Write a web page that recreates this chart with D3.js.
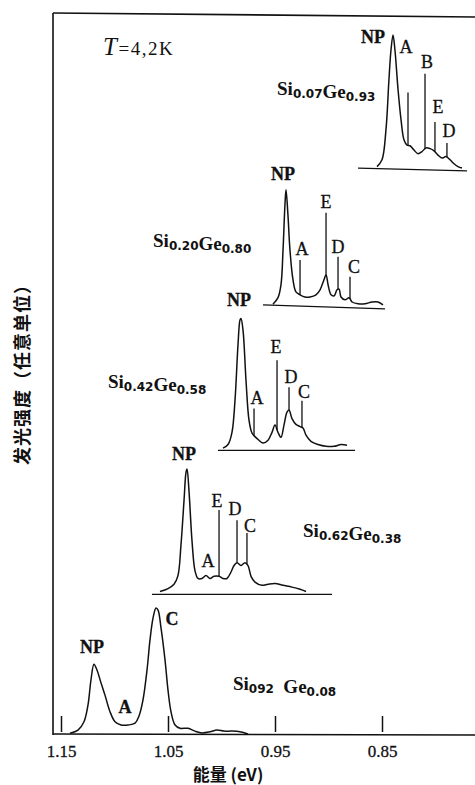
<!DOCTYPE html>
<meta charset="utf-8">
<head>
	<script src="https://d3js.org/d3.v7.min.js"></script>
	<style>
		body { margin: 0; background: #fff; }
		svg { display: block; }
		.frame line { stroke: #111; stroke-width: 1.6px; }
		.spectrum path { fill: none; stroke: #111; stroke-width: 1.5px; }
		.spectrum line { stroke: #111; stroke-width: 1.3px; }
		.peak { font-family: "Liberation Serif", serif; font-size: 18px; fill: #111; stroke: #111; stroke-width: 0.3px; }
		.sample { font-family: "Liberation Serif", serif; font-size: 19px; font-weight: bold; fill: #111; }
		.sample .sub { font-family: "DejaVu Sans", sans-serif; font-size: 12px; }
		.axis line { stroke: #111; stroke-width: 1.5px; }
	</style>
</head>
<body>
	<div id="chart"></div>
</body>

<script type="text/javascript">
	// energy ticks (eV), axis reversed: high energy on the left
	var energyTicks = [1.15, 1.05, 0.95, 0.85];

	// baseline level of each trace (arbitrary units, 0..100 over the frame)
	var offsets = [78.5, 59.6, 39.4, 19.4, 0];

	// sample names: [element, subscript] pairs
	var sampleNames = [
		[["Si", "0.07"], ["Ge", "0.93"]],
		[["Si", "0.20"], ["Ge", "0.80"]],
		[["Si", "0.42"], ["Ge", "0.58"]],
		[["Si", "0.62"], ["Ge", "0.38"]],
		[["Si", "092"], ["  Ge", "0.08"]]
	];
	var sampleAt = [[0.9481, 10.3], [1.0640, 8.1], [1.1061, 8.6], [0.9238, 7.9], [0.9893, 6.1]];

	// spectra: [energy eV, intensity above baseline]
	var spec1 = [[0.8547,0.3],[0.8500,1.25],[0.8463,5.4],[0.8435,12.4],[0.8416,16.5],[0.8397,18.6],[0.8379,16.5],
		[0.8350,11],[0.8322,6.8],[0.8294,4.0],[0.8266,3.3],[0.8238,3.2],[0.8201,2.6],[0.8164,2.1],[0.8126,2.4],
		[0.8089,2.9],[0.8051,2.8],[0.8014,2.5],[0.7977,1.9],[0.7939,1.5],[0.7902,1.7],[0.7864,1.25],[0.7827,0.7],
		[0.7790,0.3],[0.7752,0.1]];
	var spec2 = [[0.9519,0.1],[0.9472,1.0],[0.9444,2.8],[0.9425,7.6],[0.9407,13.9],[0.9397,16.0],[0.9379,12.5],
		[0.9360,7.6],[0.9332,3.5],[0.9304,1.8],[0.9266,1.4],[0.9220,1.1],[0.9173,1.1],[0.9117,1.4],[0.9079,2.1],
		[0.9042,3.5],[0.9023,4.2],[0.9004,2.8],[0.8976,1.4],[0.8948,1.25],[0.8920,2.1],[0.8901,2.2],[0.8883,1.1],
		[0.8845,0.7],[0.8808,1.0],[0.8780,0.4],[0.8724,0.15],[0.8659,0.15],[0.8593,0.4],[0.8537,0.4],[0.8491,0]];
	var spec3 = [[0.9986,0.3],[0.9939,0.8],[0.9902,2.5],[0.9874,6.9],[0.9846,14.6],[0.9827,18.1],[0.9818,18.3],
		[0.9799,16.7],[0.9771,9.7],[0.9743,4.2],[0.9715,2.4],[0.9687,1.9],[0.9650,1.4],[0.9612,1.0],[0.9565,1.4],
		[0.9528,2.5],[0.9500,3.5],[0.9472,2.5],[0.9444,1.8],[0.9416,3.5],[0.9388,5.3],[0.9369,5.6],[0.9341,4.4],
		[0.9304,3.6],[0.9266,3.3],[0.9238,3.1],[0.9210,2.1],[0.9164,1.25],[0.9098,0.8],[0.9023,0.55],[0.8948,0.55],
		[0.8883,0.8],[0.8827,0.7]];
	var spec4 = [[1.0575,0.4],[1.0500,0.8],[1.0444,1.4],[1.0407,2.6],[1.0379,6.8],[1.0350,13.1],[1.0332,16.9],
		[1.0322,17.4],[1.0304,14.4],[1.0276,7.5],[1.0248,3.3],[1.0220,2.2],[1.0182,2.2],[1.0145,2.6],[1.0107,2.2],
		[1.0070,2.5],[1.0023,2.5],[0.9986,2.2],[0.9949,2.2],[0.9911,3.1],[0.9883,4.0],[0.9855,4.4],[0.9818,4.0],
		[0.9780,4.4],[0.9752,4.0],[0.9724,2.5],[0.9687,1.7],[0.9621,1.25],[0.9565,1.4],[0.9500,1.5],[0.9425,1.25],
		[0.9341,1.0],[0.9266,0.7],[0.9210,0.4]];
	var spec5 = [[1.1416,0.1],[1.1341,0.55],[1.1285,1.7],[1.1248,4.0],[1.1220,7.5],[1.1192,9.7],[1.1164,8.9],
		[1.1126,7.1],[1.1089,5.4],[1.1042,3.1],[1.0995,1.7],[1.0939,1.25],[1.0874,1.25],[1.0808,1.5],[1.0771,2.5],
		[1.0734,4.7],[1.0696,8.9],[1.0668,13.1],[1.0640,16.1],[1.0612,17.5],[1.0593,17.2],[1.0565,14.7],[1.0528,10.3],
		[1.0500,6.1],[1.0472,3.1],[1.0434,1.25],[1.0388,0.8],[1.0313,0.8],[1.0248,0.4],[1.0182,0.15],[1.0107,0.3],
		[1.0042,0.55],[0.9977,0.4],[0.9902,0.4],[0.9827,0.3],[0.9752,0]];
	var spectra = [spec1, spec2, spec3, spec4, spec5];

	// short baselines drawn under each trace: [energy, level]
	var baselines = [
		[[0.8724, 0.1], [0.7706, -0.3]],
		[[0.9612, 0], [0.8472, -0.55]],
		[[1.0033, 0], [0.8752, 0]],
		[[1.0650, 0], [0.8967, 0]],
		null
	];

	// replica marker lines: [name, energy, top level]
	var markers = [
		[["A", 0.8257, 10.6], ["B", 0.8098, 13.2], ["E", 0.8005, 6.5], ["D", 0.7893, 3.6]],
		[["A", 0.9266, 6.25], ["E", 0.9023, 12.8], ["D", 0.8911, 6.7], ["C", 0.8799, 3.9]],
		[["A", 0.9696, 5.8], ["E", 0.9481, 12.5], ["D", 0.9369, 8.75], ["C", 0.9248, 6.9]],
		[["E", 1.0023, 11.7], ["D", 0.9855, 10.3], ["C", 0.9762, 8.5]],
		[]
	];

	// peak labels: [text, energy, level]
	var peakLabels = [
		[["NP", 0.8584, 17.5], ["A", 0.8276, 16.1], ["B", 0.8079, 14.0], ["E", 0.7977, 7.8], ["D", 0.7874, 4.4]],
		[["NP", 0.9425, 17.4], ["E", 0.9023, 13.5], ["A", 0.9248, 6.9], ["D", 0.8911, 7.2], ["C", 0.8762, 4.4]],
		[["NP", 0.9836, 20.1], ["A", 0.9668, 6.5], ["E", 0.9491, 13.5], ["D", 0.9350, 9.4], ["C", 0.9229, 7.2]],
		[["NP", 1.0350, 18.6], ["A", 1.0126, 3.75], ["E", 1.0042, 12.1], ["D", 0.9874, 11.0], ["C", 0.9734, 8.6]],
		[["NP", 1.1210, 11.25], ["A", 1.0902, 2.9], ["C", 1.0463, 15.1]]
	];

	var W = 475, H = 785;
	var frame = {left: 53, right: 475, top: 14, bottom: 734};

	var x = d3.scaleLinear().domain([1.15, 0.85]).range([61, 382]);
	var y = d3.scaleLinear().domain([0, 100]).range([frame.bottom, frame.top]);

	var svg = d3.select("#chart").append("svg")
		.attr("width", W)
		.attr("height", H);

	var fr = svg.append("g").attr("class", "frame");
	fr.append("line").attr("x1", frame.left).attr("y1", frame.top - 1).attr("x2", frame.left).attr("y2", frame.bottom + 1);
	fr.append("line").attr("x1", frame.left).attr("y1", frame.top - 1).attr("x2", frame.right).attr("y2", frame.top + 3);
	fr.append("line").attr("x1", frame.left).attr("y1", frame.bottom).attr("x2", frame.right).attr("y2", frame.bottom + 1);

	var xAxis = d3.axisBottom(x)
		.tickValues(energyTicks)
		.tickFormat(d3.format(".2f"))
		.tickSizeInner(-18)
		.tickSizeOuter(0)
		.tickPadding(11);

	var xg = svg.append("g")
		.attr("class", "axis")
		.attr("transform", "translate(0," + frame.bottom + ")")
		.call(xAxis);
	xg.select(".domain").remove();
	xg.selectAll(".tick line").attr("y2", -18).attr("y1", -2);
	xg.selectAll(".tick text")
		.style("font-family", "'Liberation Serif', serif")
		.style("font-size", "17px")
		.style("fill", "#111")
		.style("stroke", "#111")
		.style("stroke-width", "0.3px");

	svg.append("text")
		.attr("x", 228)
		.attr("y", 781)
		.attr("text-anchor", "middle")
		.style("font-family", "'Noto Sans CJK SC', 'Liberation Serif', serif")
		.style("font-weight", "bold")
		.style("font-size", "17px")
		.style("fill", "#111")
		.text("能量 (eV)");

	svg.append("text")
		.attr("transform", "translate(29,370)rotate(-90)")
		.attr("text-anchor", "middle")
		.style("font-family", "'Noto Sans CJK SC', sans-serif")
		.style("font-weight", "bold")
		.style("font-size", "18px")
		.style("letter-spacing", "1px")
		.style("fill", "#111")
		.text("发光强度（任意单位）");

	var tLabel = svg.append("text")
		.attr("x", x(1.1107))
		.attr("y", y(94.3))
		.style("font-family", "'Liberation Serif', serif")
		.style("font-size", "19px")
		.style("letter-spacing", "1.5px")
		.style("fill", "#111");
	tLabel.append("tspan").style("font-style", "italic").style("font-size", "25px").text("T");
	tLabel.append("tspan").text("=4,2K");

	function levelAt(pts, e) {
		for (var i = 1; i < pts.length; i++) {
			var a = pts[i - 1], b = pts[i];
			if ((e <= a[0] && e >= b[0])) {
				var t = (a[0] - e) / (a[0] - b[0]);
				return a[1] + t * (b[1] - a[1]);
			}
		}
		return 0;
	}

	var line = d3.line()
		.x(function(d) { return x(d[0]); })
		.y(function(d) { return d[1]; })
		.curve(d3.curveCatmullRom.alpha(0.5));

	spectra.forEach(function(pts, i) {
		var off = offsets[i];
		var g = svg.append("g").attr("class", "spectrum");

		if (baselines[i]) {
			g.append("line")
				.attr("x1", x(baselines[i][0][0])).attr("y1", y(off + baselines[i][0][1]))
				.attr("x2", x(baselines[i][1][0])).attr("y2", y(off + baselines[i][1][1]));
		}

		g.append("path")
			.attr("d", line(pts.map(function(d) { return [d[0], y(off + d[1])]; })));

		g.selectAll(".marker")
			.data(markers[i])
			.enter().append("line")
			.attr("class", "marker")
			.attr("x1", function(d) { return x(d[1]); })
			.attr("x2", function(d) { return x(d[1]); })
			.attr("y1", function(d) { return y(off + d[2]); })
			.attr("y2", function(d) { return y(off + levelAt(pts, d[1])); });

		g.selectAll(".peak")
			.data(peakLabels[i])
			.enter().append("text")
			.attr("class", "peak")
			.attr("x", function(d) { return x(d[1]); })
			.attr("y", function(d) { return y(off + d[2]); })
			.attr("text-anchor", "middle")
			.style("font-weight", function(d) { return (d[0] == "NP" || i == 4) ? "bold" : "normal"; })
			.text(function(d) { return d[0]; });

		var s = g.append("text")
			.attr("class", "sample")
			.attr("x", x(sampleAt[i][0]))
			.attr("y", y(off + sampleAt[i][1]))
			.attr("xml:space", "preserve");
		sampleNames[i].forEach(function(p) {
			s.append("tspan").attr("dy", 0).text(p[0]);
			s.append("tspan").attr("class", "sub").attr("dy", 3).text(p[1]);
			s.append("tspan").attr("dy", -3).text("");
		});
	});
</script>
